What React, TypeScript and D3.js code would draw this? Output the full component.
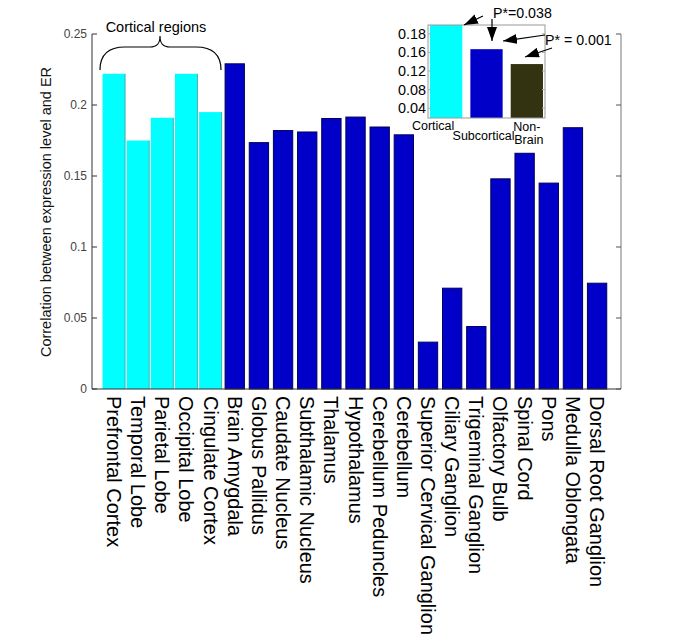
import React from "react";
import * as d3 from "d3";

const categories = [
  "Prefrontal Cortex", "Temporal Lobe", "Parietal Lobe", "Occipital Lobe", "Cingulate Cortex",
  "Brain Amygdala", "Globus Pallidus", "Caudate Nucleus", "Subthalamic Nucleus", "Thalamus",
  "Hypothalamus", "Cerebellum Peduncles", "Cerebellum", "Superior Cervical Ganglion",
  "Ciliary Ganglion", "Trigeminal Ganglion", "Olfactory Bulb", "Spinal Cord", "Pons",
  "Medulla Oblongata", "Dorsal Root Ganglion",
];
const values = [
  0.222, 0.175, 0.191, 0.222, 0.195,
  0.229, 0.1735, 0.182, 0.181, 0.1905,
  0.1915, 0.1845, 0.179, 0.033,
  0.071, 0.044, 0.148, 0.166, 0.145,
  0.184, 0.0745,
];
const corticalCount = 5;
const yTicks = [0, 0.05, 0.1, 0.15, 0.2, 0.25];
const yTickLabels = ["0", "0.05", "0.1", "0.15", "0.2", "0.25"];

const insetCategories = ["Cortical", "Subcortical", "Non-Brain"];
const insetValues = [0.22, 0.167, 0.135];
const insetTicks = [0.04, 0.08, 0.12, 0.16, 0.2];
const insetTickLabels = ["0.04", "0.08", "0.12", "0.16", "0.18"];
const pLabels = ["P*=0.038", "P* = 0.001"];

const FONT = "'Liberation Sans', Arial, Helvetica, sans-serif";

export default function App() {
  const W = 685, H = 643;
  const x = d3.scaleLinear().domain([0.09, 21.99]).range([92, 621]);
  const y = d3.scaleLinear().domain([0, 0.25]).range([389, 34]);
  const step = x(2) - x(1);
  const blueW = step * 0.8;
  const cyanW = step * 0.95;

  const ix = d3.scaleLinear().domain([0.55, 3.45]).range([428, 545]);
  const iy = d3.scaleLinear().domain([0.019, 0.219]).range([118, 25]);
  const iStep = ix(2) - ix(1);
  const iw = iStep * 0.8;
  const insetColors = ["#00ffff", "#0000c8", "#333311"];

  const brace =
    "M100,70 C100,55 108,47 125,47 L150,47 C157,47 160,44 160,36 C160,44 163,47 170,47 L196,47 C213,47 221,55 221,70";

  return (
    <svg width={W} height={H} style={{ position: "absolute", left: 0, top: 0 }} fontFamily={FONT}>
      <defs>
        <marker id="ah" viewBox="0 0 14 10" refX="14" refY="5" markerWidth="14" markerHeight="10"
          markerUnits="userSpaceOnUse" orient="auto">
          <path d="M0,0 L14,5 L0,10 Z" fill="#000" />
        </marker>
        <clipPath id="iclip">
          <rect x={428} y={25} width={117} height={93} />
        </clipPath>
      </defs>
      <rect width={W} height={H} fill="#fff" />

      {/* bars */}
      {values.map((v, i) => {
        const cx = x(i + 1);
        if (i < corticalCount) {
          return (
            <g key={i}>
              <rect x={cx - cyanW / 2} y={y(v)} width={cyanW} height={y(0) - y(v)} fill="#00ffff" />
              <line x1={cx + cyanW / 2 - 0.5} x2={cx + cyanW / 2 - 0.5} y1={y(v)} y2={y(0)} stroke="#6a9a9a" strokeWidth={0.8} />
            </g>
          );
        }
        return (
          <rect key={i} x={cx - blueW / 2} y={y(v)} width={blueW} height={y(0) - y(v)}
            fill="#0000c8" stroke="#000058" strokeWidth={1} />
        );
      })}

      {/* axes */}
      <line x1={92} x2={92} y1={34} y2={389} stroke="#333" strokeWidth={1} />
      <line x1={621} x2={621} y1={34} y2={389} stroke="#777" strokeWidth={1} />
      <line x1={92} x2={621} y1={389} y2={389} stroke="#333" strokeWidth={1} />
      {yTicks.map((t, i) => (
        <g key={i}>
          <line x1={92} x2={97} y1={y(t)} y2={y(t)} stroke="#333" />
          <line x1={616} x2={621} y1={y(t)} y2={y(t)} stroke="#555" />
          <text x={87} y={y(t)} dy="0.35em" textAnchor="end" fontSize={12} fill="#444">{yTickLabels[i]}</text>
        </g>
      ))}
      <text transform={`translate(46,212) rotate(-90)`} textAnchor="middle" dy="0.35em" fontSize={14.5} fill="#111">
        Correlation between expression level and ER
      </text>

      {/* x labels */}
      {categories.map((c, i) => (
        <text key={c} transform={`translate(${x(i + 1)},396) rotate(90)`} dy="0.35em" fontSize={20} fill="#000">
          {c}
        </text>
      ))}

      {/* cortical brace */}
      <path d={brace} fill="none" stroke="#000" strokeWidth={1.2} />
      <text x={156} y={32} textAnchor="middle" fontSize={14.5}>Cortical regions</text>

      {/* inset */}
      <rect x={428} y={25} width={117} height={93} fill="#fff" />
      <g clipPath="url(#iclip)">
        {insetValues.map((v, i) => (
          <rect key={i} x={ix(i + 1) - iw / 2} y={iy(v)} width={iw} height={118 - iy(v)} fill={insetColors[i]} />
        ))}
      </g>
      <rect x={428} y={25} width={117} height={93} fill="none" stroke="#999" strokeWidth={1} />
      {insetTicks.map((t, i) => (
        <g key={i}>
          <line x1={428} x2={431} y1={iy(t)} y2={iy(t)} stroke="#aaa" />
          <line x1={542} x2={545} y1={iy(t)} y2={iy(t)} stroke="#aaa" />
          <text x={426} y={iy(t)} dy="0.35em" textAnchor="end" fontSize={14.4} fill="#000">{insetTickLabels[i]}</text>
        </g>
      ))}
      <text x={ix(1) - 13} y={130} textAnchor="middle" fontSize={12.5}>{insetCategories[0]}</text>
      <text x={ix(2) - 3} y={140} textAnchor="middle" fontSize={12.5}>{insetCategories[1]}</text>
      <text x={ix(3)} y={131} textAnchor="middle" fontSize={12.5}>Non-</text>
      <text x={ix(3) + 2} y={144} textAnchor="middle" fontSize={12.5}>Brain</text>

      {/* p-value annotations */}
      <text x={493} y={18} fontSize={14.2}>{pLabels[0]}</text>
      <text x={545} y={45} fontSize={14.2}>{pLabels[1]}</text>
      <line x1={483} y1={16} x2={464} y2={25} stroke="#000" strokeWidth={1.2} markerEnd="url(#ah)" />
      <line x1={492} y1={19} x2={492} y2={41} stroke="#000" strokeWidth={1.2} markerEnd="url(#ah)" />
      <line x1={545} y1={35} x2={503} y2={41} stroke="#000" strokeWidth={1.2} markerEnd="url(#ah)" />
      <line x1={552} y1={48} x2={525} y2={57} stroke="#000" strokeWidth={1.2} markerEnd="url(#ah)" />
    </svg>
  );
}
